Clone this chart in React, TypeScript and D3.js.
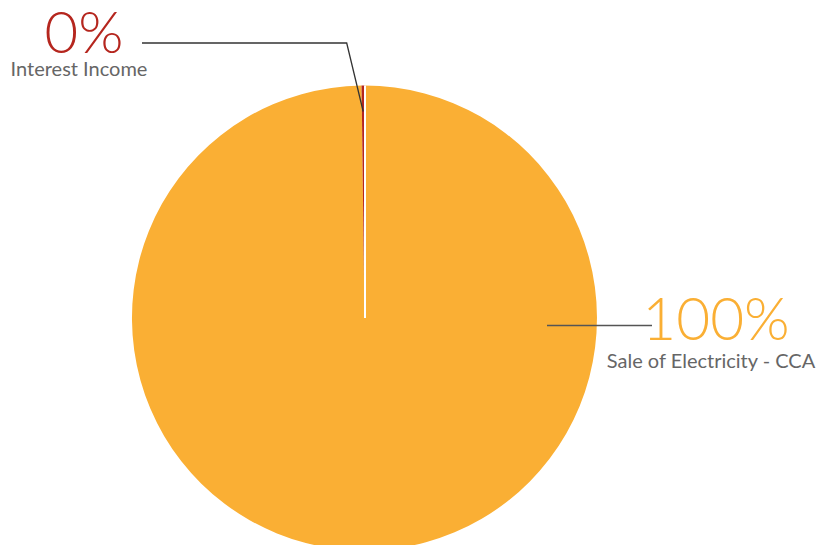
import React from "react";
import * as d3 from "d3";

const categories = ["Sale of Electricity - CCA", "Interest Income"];
const values = [99.8, 0.2];
const colors = ["#FAAF34", "#B5261E"];

const W = 822;
const H = 545;
const cx = 364.5;
const cy = 318;
const R = 232.5;

export default function App() {
  const data = categories.map((c, i) => ({ c, v: values[i], color: colors[i] }));
  const total = d3.sum(values);
  const pie = d3.pie<any>().value((d) => d.v).sort(null).startAngle(0).endAngle(2 * Math.PI);
  const arcs = pie(data);
  const arc = d3.arc<any>().innerRadius(0).outerRadius(R);
  const fmt = (v: number) => `${Math.round((v / total) * 100)}%`;

  const ii = arcs[1];
  const mid = (ii.startAngle + ii.endAngle) / 2;
  const tipR = R - 26;
  const tip = [Math.sin(mid) * tipR, -Math.cos(mid) * tipR];
  const a0 = arcs[0].startAngle;
  const sep = [Math.sin(a0) * R, -Math.cos(a0) * R];

  return (
    <svg width={W} height={H} style={{ position: "absolute", left: 0, top: 0 }} fontFamily="Lato, 'Open Sans', sans-serif">
      <g transform={`translate(${cx},${cy})`}>
        {arcs.map((a, i) => (
          <path key={i} d={arc(a) as string} fill={a.data.color} />
        ))}
        <line x1={0.5} y1={0} x2={sep[0] + 0.5} y2={sep[1]} stroke="#fff" strokeWidth={2} />
        <polyline
          points={`${tip[0]},${tip[1]} ${346.7 - cx},${43 - cy} ${142 - cx},${43 - cy}`}
          fill="none"
          stroke="#333"
          strokeWidth={1.3}
        />
        <line x1={547 - cx} y1={325.5 - cy} x2={652 - cx} y2={325.5 - cy} stroke="#555" strokeWidth={1.3} />
      </g>
      <text x={84} y={53} textAnchor="middle" fontSize={58} fontWeight={300} fill={colors[1]}>
        {fmt(values[1])}
      </text>
      <text x={79} y={76} textAnchor="middle" fontSize={20} fill="#666">
        {categories[1]}
      </text>
      <text x={716} y={340} textAnchor="middle" fontSize={58.5} fontWeight={300} fill={colors[0]}>
        {fmt(values[0])}
      </text>
      <text x={711} y={368} textAnchor="middle" fontSize={20} fill="#666">
        {categories[0]}
      </text>
    </svg>
  );
}
